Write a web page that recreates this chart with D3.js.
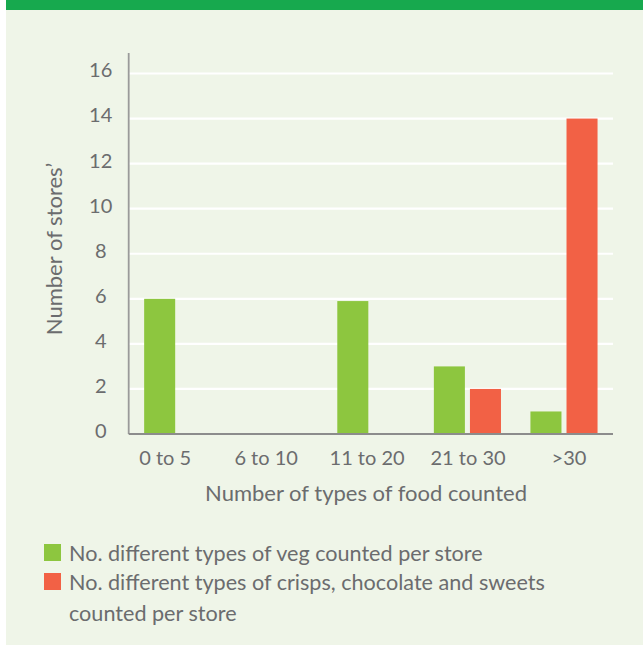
<!DOCTYPE html>
<html>
  <head>
    <meta charset="utf-8">
    <title>Number of stores by types of food counted</title>
    <script src="https://d3js.org/d3.v7.min.js"></script>
    <style>
      body { margin: 0; background: #fff; }
      #chart { display: block; font-family: Lato, "Open Sans", sans-serif; fill: #6b6c6e; }
      .axisLabel { font-size: 22px; }
      .tick text { font-size: 20px; fill: #6b6c6e; }
      .legendText { font-size: 21.6px; }
    </style>
  </head>
  <body>
    <svg id="chart" width="643" height="646"></svg>
    <script>
      // data
      var categories = ["0 to 5", "6 to 10", "11 to 20", "21 to 30", ">30"];
      var vegCounts = [6, 0, 5.9, 3, 1];
      var sweetsCounts = [0, 0, 0, 2, 14];
      var seriesKeys = ["veg", "sweets"];
      var seriesColours = ["#8dc63f", "#f26145"];
      var legendLines = [
        ["No. different types of veg counted per store"],
        ["No. different types of crisps, chocolate and sweets", "counted per store"]
      ];
      var yTicks = [0, 2, 4, 6, 8, 10, 12, 14, 16];

      var rows = categories.map(function(c, i) {
        return { category: c, veg: vegCounts[i], sweets: sweetsCounts[i] };
      });

      var chart = d3.select("#chart");

      // panel and top band
      chart.append("rect").attr("x", 6).attr("y", 0).attr("width", 637).attr("height", 645)
        .attr("fill", "#eff5e8");
      chart.append("rect").attr("x", 6).attr("y", 0).attr("width", 637).attr("height", 10)
        .attr("fill", "#17a94e");

      var x0 = d3.scaleBand()
        .domain(categories)
        .range([128.7, 613])
        .paddingInner(0.305)
        .paddingOuter(0.16);
      var x1 = d3.scaleBand()
        .domain(seriesKeys)
        .range([0, x0.bandwidth()])
        .paddingInner(0.14);
      // the category labels sit a bit wider apart than the bar groups
      var xLabels = d3.scalePoint()
        .domain(categories)
        .range([164.7, 568.5]);
      var y = d3.scaleLinear()
        .domain([0, 16])
        .range([434, 73.5]);
      var colour = d3.scaleOrdinal().domain(seriesKeys).range(seriesColours);

      // gridlines
      chart.append("g")
        .selectAll("line")
        .data(yTicks.filter(function(d) { return d > 0; }))
        .join("line")
          .attr("x1", 128.7)
          .attr("x2", 613)
          .attr("y1", function(d) { return y(d); })
          .attr("y2", function(d) { return y(d); })
          .attr("stroke", "#fff")
          .attr("stroke-width", 2.2);

      // bars
      chart.append("g")
        .selectAll("g")
        .data(rows)
        .join("g")
          .attr("transform", function(d) { return "translate(" + x0(d.category) + ",0)"; })
        .selectAll("rect")
        .data(function(d) { return seriesKeys.map(function(k) { return { key: k, value: d[k] }; }); })
        .join("rect")
          .attr("x", function(d) { return x1(d.key); })
          .attr("y", function(d) { return y(d.value); })
          .attr("width", x1.bandwidth())
          .attr("height", function(d) { return y(0) - y(d.value); })
          .attr("fill", function(d) { return colour(d.key); });

      // y axis
      var yAxis = d3.axisLeft(y).tickValues(yTicks).tickSize(0).tickPadding(0);
      var yAxisGroup = chart.append("g")
        .attr("transform", "translate(128.7,0)")
        .call(yAxis)
        .attr("font-family", null)
        .attr("font-size", null);
      yAxisGroup.select(".domain")
        .attr("d", "M0,53V" + y(0))
        .attr("stroke", "#9a9a9a")
        .attr("stroke-width", 1.8);
      yAxisGroup.selectAll(".tick text")
        .attr("text-anchor", "middle")
        .attr("x", -28)
        .attr("dy", "0.17em");

      // x axis
      var xAxis = d3.axisBottom(xLabels).tickSize(0).tickPadding(0);
      var xAxisGroup = chart.append("g")
        .attr("transform", "translate(0," + y(0) + ")")
        .call(xAxis)
        .attr("font-family", null)
        .attr("font-size", null);
      xAxisGroup.select(".domain")
        .attr("d", "M128.7,0H613")
        .attr("stroke", "#8c8c8c")
        .attr("stroke-width", 1.8);
      xAxisGroup.selectAll(".tick text")
        .attr("y", 31)
        .attr("dy", 0);

      // axis titles
      chart.append("text")
        .attr("class", "axisLabel")
        .attr("x", 366)
        .attr("y", 501)
        .attr("text-anchor", "middle")
        .text("Number of types of food counted");
      chart.append("text")
        .attr("class", "axisLabel")
        .attr("transform", "translate(62,249) rotate(-90)")
        .attr("text-anchor", "middle")
        .text("Number of stores\u2019");

      // legend
      var legend = chart.append("g")
        .selectAll("g")
        .data(seriesKeys)
        .join("g")
          .attr("transform", function(d, i) { return "translate(44," + (544 + i * 29) + ")"; });
      legend.append("rect")
        .attr("width", 17)
        .attr("height", 17)
        .attr("fill", function(d) { return colour(d); });
      legend.each(function(d, i) {
        d3.select(this).append("text")
          .attr("class", "legendText")
          .attr("x", 25)
          .attr("y", 17)
          .selectAll("tspan")
          .data(legendLines[i])
          .join("tspan")
            .attr("x", 25)
            .attr("dy", function(t, j) { return j === 0 ? 0 : 31; })
            .text(function(t) { return t; });
      });
    </script>
  </body>
</html>
